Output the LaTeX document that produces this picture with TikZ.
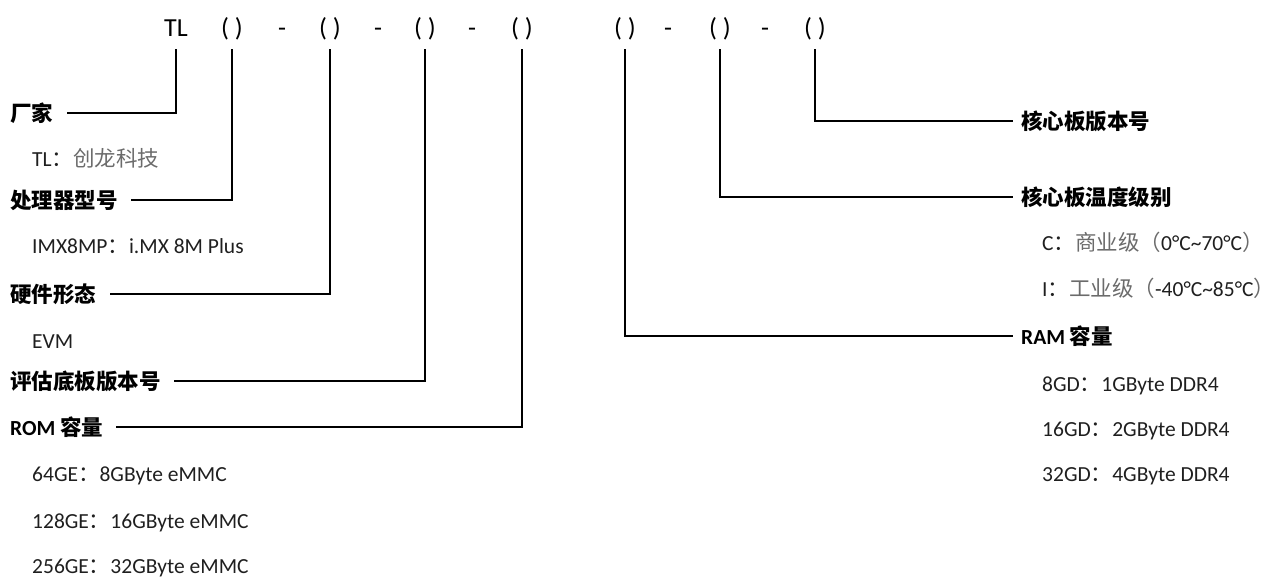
\documentclass[tikz,border=0pt]{standalone}
\usepackage{fontspec}
\setmainfont{Carlito}
\newfontfamily\zhfont{Noto Sans CJK SC}
\usepackage{tikz}
\definecolor{desctext}{gray}{0.12}
\definecolor{descgray}{gray}{0.42}
\newcommand{\zh}[1]{{\zhfont\color{descgray}#1}}

\begin{document}
\begin{tikzpicture}[x=1pt,y=-1pt,
	code/.style={font=\fontsize{26}{30}\selectfont, inner xsep=0pt, inner ysep=7pt, text height=18pt, text depth=6pt},
	head/.style={anchor=west, inner sep=0pt, font=\fontsize{21.5}{25}\selectfont\bfseries, text height=18.5pt, text depth=2.5pt},
	desc/.style={anchor=west, inner sep=0pt, font=\fontsize{21.5}{25}\selectfont, text=desctext, text height=18.5pt, text depth=2.5pt},
	conn/.style={line width=1.9pt, line join=miter}]
	
	\useasboundingbox (0,0) rectangle (1276,587);
	
	% the part number, one node per field
	\node[code] (tl) at (176,30) {TL};
	\node[code] (p1) at (232,30) {( )};
	\node[code] (d1) at (282,30) {-};
	\node[code] (p2) at (330,30) {( )};
	\node[code] (d2) at (378,30) {-};
	\node[code] (p3) at (425,30) {( )};
	\node[code] (d3) at (472,30) {-};
	\node[code] (p4) at (522,30) {( )};
	\node[code] (p5) at (625,30) {( )};
	\node[code] (d4) at (668,30) {-};
	\node[code] (p6) at (720,30) {( )};
	\node[code] (d5) at (765,30) {-};
	\node[code] (p7) at (815,30) {( )};
	
	%%%%%%%%%%%%%%%%%%%%%%%%%%%%%%%%%%%%%%%%%%%%%%%%%%%%%%%%%%%%%%
	% left column: field name, then its values
	\node[head] (vendor) at (10,113) {\zhfont 厂家};
	\node[desc] (vendor-tl) at (32,158) {TL{\zhfont ：}\zh{创龙科技}};
	
	\node[head] (cpu) at (10,200) {\zhfont 处理器型号};
	\node[desc] (cpu-imx) at (32,245) {IMX8MP{\zhfont ：}i.MX 8M Plus};
	
	\node[head] (form) at (10,294) {\zhfont 硬件形态};
	\node[desc] (form-evm) at (32,340) {EVM};
	
	\node[head] (evb) at (10,381) {\zhfont 评估底板版本号};
	
	\node[head] (rom) at (10,427) {ROM {\zhfont 容量}};
	\node[desc] (rom-64) at (32,473) {64GE{\zhfont ：}8GByte eMMC};
	\node[desc] (rom-128) at (32,520) {128GE{\zhfont ：}16GByte eMMC};
	\node[desc] (rom-256) at (32,565) {256GE{\zhfont ：}32GByte eMMC};
	
	% right column
	\node[head] (corever) at (1021,121) {\zhfont 核心板版本号};
	
	\node[head] (temp) at (1021,197) {\zhfont 核心板温度级别};
	\node[desc] (temp-c) at (1042,242) {C{\zhfont ：}\zh{商业级（}0°C\textasciitilde70°C\zh{）}};
	\node[desc] (temp-i) at (1042,288) {I{\zhfont ：}\zh{工业级（}-40°C\textasciitilde85°C\zh{）}};
	
	\node[head] (ram) at (1021,336) {RAM {\zhfont 容量}};
	\node[desc] (ram-8) at (1042,383) {8GD{\zhfont ：}1GByte DDR4};
	\node[desc] (ram-16) at (1042,428) {16GD{\zhfont ：}2GByte DDR4};
	\node[desc] (ram-32) at (1042,473) {32GD{\zhfont ：}4GByte DDR4};
	
	%%%%%%%%%%%%%%%%%%%%%%%%%%%%%%%%%%%%%%%%%%%%%%%%%%%%%%%%%%%%%%
	% leader lines from each field down to its name
	\draw[conn] (tl.south) |- ([xshift=14pt]vendor.east);
	\draw[conn] (p1.south) |- ([xshift=13pt]cpu.east);
	\draw[conn] (p2.south) |- ([xshift=14pt]form.east);
	\draw[conn] (p3.south) |- ([xshift=13pt]evb.east);
	\draw[conn] (p4.south) |- ([xshift=13pt]rom.east);
	
	\draw[conn] (p5.south) |- ([xshift=-8pt]ram.west);
	\draw[conn] (p6.south) |- ([xshift=-8pt]temp.west);
	\draw[conn] (p7.south) |- ([xshift=-8pt]corever.west);
	
\end{tikzpicture}
\end{document}
